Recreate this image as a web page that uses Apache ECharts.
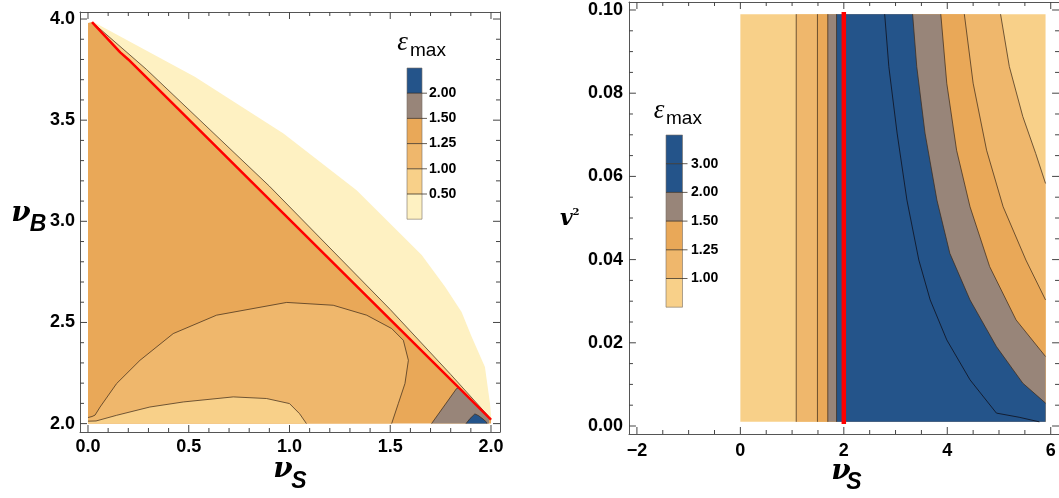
<!DOCTYPE html>
<html><head><meta charset="utf-8">
<script src="https://cdn.jsdelivr.net/npm/echarts@6/dist/echarts.min.js"></script>
<style>html,body{margin:0;padding:0;background:#fff}#c{width:1059px;height:498px}</style>
</head><body><div id="c"></div><script>
// ---------- colours ----------
var C_BLUE = '#24548a', C_GRAY = '#988579', C_DARK = '#e9a858', C_MED = '#efb76c', C_LIGHT = '#f8d089', C_PALE = '#fef1c2';
var C_EDGE = 'rgba(60,42,25,0.72)';

// ---------- left panel (nu_S, nu_B) ----------
var leftXTicks = [0, 0.5, 1.0, 1.5, 2.0];
var leftXTickLabels = ['0.0', '0.5', '1.0', '1.5', '2.0'];
var leftYTicks = [2.0, 2.5, 3.0, 3.5, 4.0];
var leftYTickLabels = ['2.0', '2.5', '3.0', '3.5', '4.0'];
var redLineLeft = [[0.02, 3.985], [0.16, 3.835], [0.2, 3.80], [2.0, 2.02]];
var paleUpper = [[0.025, 3.987], [0.53, 3.715], [0.97, 3.434], [1.333, 3.154], [1.656, 2.833], [1.772, 2.676], [1.854, 2.552], [1.904, 2.429], [1.97, 2.28], [1.995, 2.099], [2.003, 2.008]];
var bandUpper = [[0.04, 3.968], [0.29, 3.751], [0.9, 3.174], [1.5, 2.564], [1.8, 2.243], [1.98, 2.045], [2.0, 2.02]];
var contour125 = [[0, 2.03], [0.02, 2.035], [0.035, 2.042], [0.06, 2.082], [0.142, 2.198], [0.258, 2.313], [0.423, 2.445], [0.638, 2.536], [0.986, 2.599], [1.217, 2.585], [1.383, 2.536], [1.507, 2.47], [1.565, 2.412], [1.59, 2.313], [1.573, 2.198], [1.54, 2.099], [1.507, 2.0]];
var contour100 = [[0, 2.012], [0.04, 2.013], [0.142, 2.041], [0.307, 2.082], [0.473, 2.107], [0.721, 2.132], [0.886, 2.124], [1.0, 2.099], [1.05, 2.049], [1.084, 2.0]];
var grayPatch = [[1.705, 2.0], [1.829, 2.173], [1.84, 2.178], [1.99, 2.03], [1.99, 2.0]];
var bluePatch = [[1.876, 2.0], [1.896, 2.025], [1.92, 2.048], [1.937, 2.04], [1.96, 2.023], [1.978, 2.007], [1.98, 2.0]];
var leftCorners = [[0, 3.98], [0, 2.0], [2.0, 2.0]];

// ---------- right panel (nu_S, v^2) ----------
var rightXTicks = [-2, 0, 2, 4, 6];
var rightXTickLabels = ['\u22122', '0', '2', '4', '6'];
var rightYTicks = [0, 0.02, 0.04, 0.06, 0.08, 0.10];
var rightYTickLabels = ['0.00', '0.02', '0.04', '0.06', '0.08', '0.10'];
var rightDomainX = [0.0, 5.9];
var rightDomainY = [0.001, 0.099];
var verticalContours = [1.08, 1.49, 1.69, 1.86];
var redLineRightX = 2.0;
var curve100 = [[5.03, 0.099], [5.20, 0.0864], [5.46, 0.0744], [5.71, 0.0655], [5.9, 0.0583]];
var curve125 = [[4.33, 0.099], [4.50, 0.0824], [4.76, 0.0663], [5.08, 0.0527], [5.52, 0.0399], [5.9, 0.0303]];
var curve150 = [[3.875, 0.099], [3.99, 0.0824], [4.18, 0.0663], [4.44, 0.0527], [4.82, 0.0383], [5.33, 0.0255], [5.9, 0.0167]];
var curve200 = [[3.33, 0.099], [3.41, 0.0864], [3.57, 0.0704], [3.80, 0.0543], [4.05, 0.0415], [4.44, 0.0303], [4.95, 0.0191], [5.46, 0.0103], [5.9, 0.0055]];
var curve300 = [[2.79, 0.099], [2.87, 0.0864], [3.03, 0.0704], [3.22, 0.0543], [3.45, 0.0399], [3.67, 0.0303], [3.99, 0.0207], [4.44, 0.0111], [4.95, 0.0031], [5.39, 0.0021], [5.78, 0.001]];

// ---------- legends ----------
var leftLegendColors = [C_BLUE, C_GRAY, C_DARK, C_MED, C_LIGHT, C_PALE];
var leftLegendLabels = ['2.00', '1.50', '1.25', '1.00', '0.50'];
var rightLegendColors = [C_BLUE, C_BLUE, C_GRAY, C_DARK, C_MED, C_LIGHT];
var rightLegendLabels = ['3.00', '2.00', '1.50', '1.25', '1.00'];

// ---------- helpers ----------
function minorsOf(a, b, step, majors) {
  var out = [];
  for (var i = 0; a + i * step <= b + 1e-9; i++) {
    var v = +(a + i * step).toFixed(6);
    if (majors.every(function (m) { return Math.abs(m - v) > 1e-9; })) out.push(v);
  }
  return out;
}
function labelFor(ticks, labels) {
  return function (v) {
    for (var i = 0; i < ticks.length; i++) if (Math.abs(ticks[i] - v) < 1e-9) return labels[i];
    return '';
  };
}
var FRAME = '#555555';
function axis(grid, pos, min, max, majors, fmt, showLabel, margin) {
  return {
    type: 'value', gridIndex: grid, position: pos, min: min, max: max,
    splitLine: { show: false }, silent: true,
    axisLine: { show: true, onZero: false, lineStyle: { color: FRAME, width: 1 } },
    axisTick: { show: false },
    axisLabel: { show: showLabel, customValues: majors, formatter: fmt, margin: margin, fontSize: 18, fontWeight: 'bold', color: '#000', fontFamily: 'Liberation Sans, Arial, sans-serif' }
  };
}
function polySeries(points, color, xi, yi, z) {
  return {
    type: 'custom', coordinateSystem: 'cartesian2d', xAxisIndex: xi, yAxisIndex: yi,
    data: points, z: z, silent: true, animation: false,
    renderItem: function (params, api) {
      if (params.dataIndex !== 0) return null;
      var pts = points.map(function (p) { return api.coord(p); });
      return { type: 'polygon', shape: { points: pts }, style: { fill: color } };
    }
  };
}
function lineSeries(points, color, width, xi, yi, z) {
  return {
    type: 'line', data: points, xAxisIndex: xi, yAxisIndex: yi, symbol: 'none', showSymbol: false,
    lineStyle: { color: color, width: width }, z: z, silent: true, animation: false
  };
}
// inward frame ticks on four sides, as broken line segments in data units
function frameTicks(xr, yr, wPx, hPx, xMaj, xMin, yMaj, yMin) {
  var out = [];
  var dy = function (px) { return px * (yr[1] - yr[0]) / hPx; };
  var dx = function (px) { return px * (xr[1] - xr[0]) / wPx; };
  function vt(list, len) {
    list.forEach(function (v) {
      out.push([v, yr[0]], [v, yr[0] + dy(len)], [v, '-']);
      out.push([v, yr[1]], [v, yr[1] - dy(len)], [v, '-']);
    });
  }
  function ht(list, len) {
    list.forEach(function (v) {
      out.push([xr[0], v], [xr[0] + dx(len), v], ['-', v]);
      out.push([xr[1], v], [xr[1] - dx(len), v], ['-', v]);
    });
  }
  vt(xMaj, 7); vt(xMin, 4); ht(yMaj, 7); ht(yMin, 4);
  return out;
}

// ---------- axes ----------
var LXmin = -0.0397, LXmax = 2.0447, LYmin = 1.9585, LYmax = 4.0347;
var RXmin = -2.153, RXmax = 6.16, RYmin = -0.001923, RYmax = 0.101923;
var lxMin = minorsOf(0, 2, 0.1, leftXTicks), lyMin = minorsOf(2, 4, 0.1, leftYTicks);
var rxMin = minorsOf(-2, 6, 0.5, rightXTicks), ryMin = minorsOf(0, 0.1, 0.005, rightYTicks);
var lxf = labelFor(leftXTicks, leftXTickLabels), lyf = labelFor(leftYTicks, leftYTickLabels);
var rxf = labelFor(rightXTicks, rightXTickLabels), ryf = labelFor(rightYTicks, rightYTickLabels);

var xAxes = [
  axis(0, 'bottom', LXmin, LXmax, leftXTicks, lxf, true, 6),
  axis(0, 'top', LXmin, LXmax, leftXTicks, lxf, false, 6),
  axis(1, 'bottom', RXmin, RXmax, rightXTicks, rxf, true, 8),
  axis(1, 'top', RXmin, RXmax, rightXTicks, rxf, false, 6)
];
var yAxes = [
  axis(0, 'left', LYmin, LYmax, leftYTicks, lyf, true, 5),
  axis(0, 'right', LYmin, LYmax, leftYTicks, lyf, false, 5),
  axis(1, 'left', RYmin, RYmax, rightYTicks, ryf, true, 6),
  axis(1, 'right', RYmin, RYmax, rightYTicks, ryf, false, 6)
];

// ---------- series ----------
var series = [];
// left panel
var palePoly = paleUpper.concat(redLineLeft.slice().reverse());
var bandPoly = bandUpper.concat(redLineLeft.slice().reverse());
var darkPoly = [leftCorners[0]].concat(redLineLeft, [[2.0, 2.0]], [leftCorners[1]]);
var medPoly = contour125.concat([leftCorners[1]]);
var lightPoly = contour100.concat([leftCorners[1]]);
series.push(polySeries(palePoly, C_PALE, 0, 0, 1));
series.push(polySeries(bandPoly, C_LIGHT, 0, 0, 2));
series.push(polySeries(darkPoly, C_DARK, 0, 0, 3));
series.push(polySeries(medPoly, C_MED, 0, 0, 4));
series.push(polySeries(lightPoly, C_LIGHT, 0, 0, 5));
series.push(polySeries(grayPatch, C_GRAY, 0, 0, 6));
series.push(polySeries(bluePatch, C_BLUE, 0, 0, 7));
series.push(lineSeries(bandUpper, C_EDGE, 1, 0, 0, 8));
series.push(lineSeries(contour125, C_EDGE, 1, 0, 0, 8));
series.push(lineSeries(contour100, C_EDGE, 1, 0, 0, 8));
series.push(lineSeries(grayPatch.slice(0, 3), C_EDGE, 1, 0, 0, 8));
series.push(lineSeries(bluePatch, C_EDGE, 1, 0, 0, 8));
series.push(lineSeries(redLineLeft, '#ff0000', 2.5, 0, 0, 10));
var leftTicks = lineSeries(frameTicks([LXmin, LXmax], [LYmin, LYmax], 420, 420, leftXTicks, lxMin, leftYTicks, lyMin), '#444', 1, 0, 0, 30);
leftTicks.connectNulls = false; leftTicks.clip = false;
series.push(leftTicks);

// right panel
var rx0 = rightDomainX[0], rx1 = rightDomainX[1], ry0 = rightDomainY[0], ry1 = rightDomainY[1];
function bandRight(xl, curve) {
  return [[xl, ry0], [xl, ry1]].concat(curve, [[rx1, ry0]]);
}
series.push(polySeries([[rx0, ry0], [rx0, ry1], [rx1, ry1], [rx1, ry0]], C_LIGHT, 2, 2, 1));
series.push(polySeries(bandRight(verticalContours[0], curve100), C_MED, 2, 2, 2));
series.push(polySeries(bandRight(verticalContours[1], curve125), C_DARK, 2, 2, 3));
series.push(polySeries(bandRight(verticalContours[2], curve150), C_GRAY, 2, 2, 4));
series.push(polySeries(bandRight(verticalContours[3], curve200), C_BLUE, 2, 2, 5));
verticalContours.forEach(function (x) {
  series.push(lineSeries([[x, ry0], [x, ry1]], C_EDGE, 1, 2, 2, 8));
});
[curve100, curve125, curve150, curve200].forEach(function (c) {
  series.push(lineSeries(c, C_EDGE, 1, 2, 2, 8));
});
series.push(lineSeries(curve300, 'rgba(15,20,35,0.85)', 1, 2, 2, 8));
series.push(lineSeries([[redLineRightX, ry0 - 0.0005], [redLineRightX, ry1 + 0.0005]], '#ff0000', 4.5, 2, 2, 10));
var rightTicks = lineSeries(frameTicks([RXmin, RXmax], [RYmin, RYmax], 434, 432, rightXTicks, rxMin, rightYTicks, ryMin), '#444', 1, 2, 2, 30);
rightTicks.connectNulls = false; rightTicks.clip = false;
series.push(rightTicks);

// ---------- graphics: legends and axis titles ----------
var g = [];
function legend(x, top, w, h, colors, labels, labelX) {
  colors.forEach(function (c, i) {
    g.push({ type: 'rect', shape: { x: x, y: top + i * h, width: w, height: h }, style: { fill: c }, silent: true });
  });
  g.push({ type: 'rect', shape: { x: x, y: top, width: w, height: h * colors.length }, style: { fill: 'none', stroke: 'rgba(120,110,100,0.6)', lineWidth: 1 }, silent: true });
  labels.forEach(function (t, i) {
    var y = top + (i + 1) * h;
    g.push({ type: 'line', shape: { x1: x, y1: y, x2: x + w + 5, y2: y }, style: { stroke: 'rgba(50,40,30,0.75)', lineWidth: 1 }, silent: true });
    g.push({ type: 'text', x: labelX, y: y, style: { text: t, font: 'bold 14px Liberation Sans, Arial, sans-serif', fill: '#000', align: 'left', verticalAlign: 'middle', textAlign: 'left', textVerticalAlign: 'middle' }, silent: true });
  });
}
legend(407, 68, 15, 25.2, leftLegendColors, leftLegendLabels, 429);
legend(666, 135, 16.5, 28.7, rightLegendColors, rightLegendLabels, 691);
function txt(s, x, y, font, align) {
  g.push({ type: 'text', x: x, y: y, style: { text: s, font: font, fill: '#000', align: align || 'center', verticalAlign: 'middle', textAlign: align || 'center', textVerticalAlign: 'middle' }, silent: true });
}
var NU = 'italic bold 28px DejaVu Serif, serif';
var SUB = 'italic bold 23px Liberation Sans, Arial, sans-serif';
var EPS = 'italic 27px Liberation Serif, serif';
var MAX = '19px Liberation Sans, Arial, sans-serif';
// legend titles
txt('\u03b5', 402.5, 43, EPS); txt('max', 410, 51, MAX, 'left');
txt('\u03b5', 659, 111, EPS); txt('max', 666, 119, MAX, 'left');
// axis titles
txt('\u03bd', 283, 470, NU); txt('S', 299, 482, SUB);
txt('\u03bd', 21, 214, NU); txt('B', 38, 225, SUB);
txt('\u03bd', 841, 472, NU); txt('S', 854, 483, SUB);
txt('v', 566.5, 219, 'italic bold 22px DejaVu Serif, serif'); txt('2', 576, 212, 'bold 10px DejaVu Serif, serif');

var chart = echarts.init(document.getElementById('c'), null, { renderer: 'canvas' });
chart.setOption({
  animation: false,
  backgroundColor: '#ffffff',
  grid: [
    { left: 80, top: 12, width: 420, height: 420, containLabel: false },
    { left: 629, top: 2, width: 434, height: 432, containLabel: false }
  ],
  xAxis: xAxes,
  yAxis: yAxes,
  series: series,
  graphic: { elements: g }
});
</script></body></html>
